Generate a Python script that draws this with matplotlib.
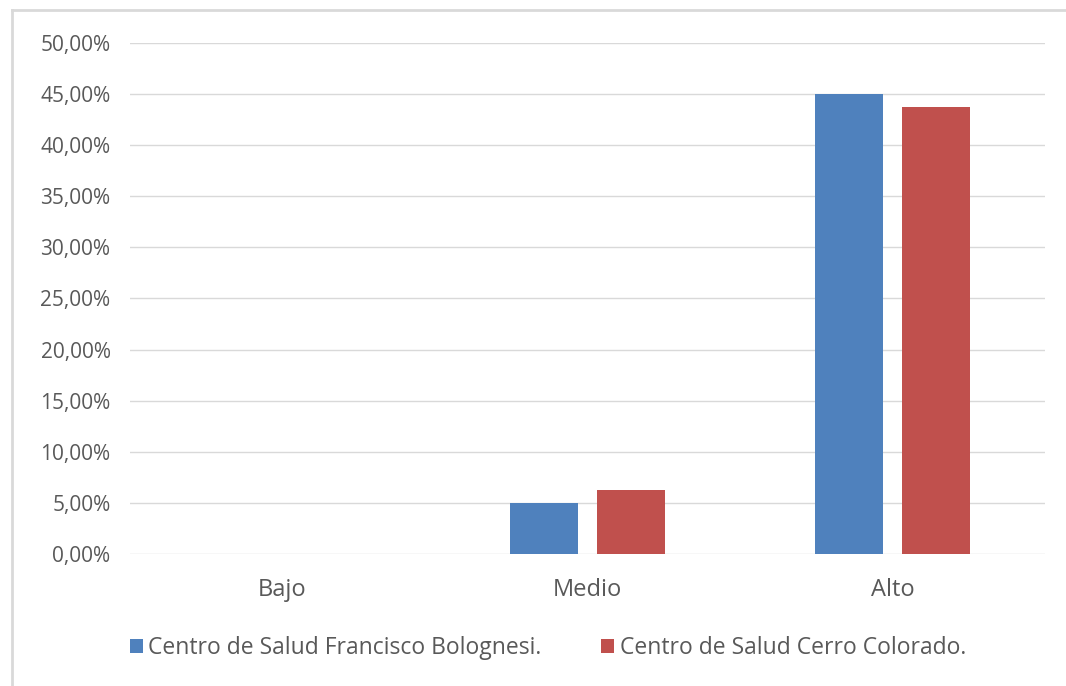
import numpy as np
import matplotlib.pyplot as plt
from matplotlib.lines import Line2D
from matplotlib.ticker import FuncFormatter

# datos del grafico
categorias = ['Bajo', 'Medio', 'Alto']
bolognesi = [0.0, 5.0, 45.0]
cerro_colorado = [0.0, 6.25, 43.7]
series = ['Centro de Salud Francisco Bolognesi.', 'Centro de Salud Cerro Colorado.']

plt.rcParams['font.family'] = ['Open Sans', 'DejaVu Sans']
gris = '#595959'

fig = plt.figure(figsize=(10.66, 6.86), dpi=100)
ax = fig.add_axes([130/1066, 132/686, 915/1066, 511/686])

x = np.arange(len(categorias))
ancho = 0.224
sep = 0.06
ax.bar(x - (ancho + sep)/2, bolognesi, ancho, color='#4f81bd', label=series[0], zorder=3)
ax.bar(x + (ancho + sep)/2, cerro_colorado, ancho, color='#c0504d', label=series[1], zorder=3)

ax.set_xlim(-0.5, 2.5)
ax.set_ylim(0, 50)
ax.set_yticks(np.arange(0, 51, 5))
ax.yaxis.set_major_formatter(FuncFormatter(lambda v, p: f'{v:.2f}%'.replace('.', ',')))
ax.set_xticks(x)
ax.set_xticklabels(categorias)
ax.tick_params(length=0, colors=gris)
ax.tick_params(axis='y', labelsize=15, pad=14)
ax.tick_params(axis='x', labelsize=17, pad=17)
ax.grid(axis='y', color='#d9d9d9', linewidth=1, zorder=0)
for s in ax.spines.values():
    s.set_visible(False)

# marco exterior (solo arriba e izquierda)
fig.add_artist(Line2D([12/1066, 1], [1 - 10/686, 1 - 10/686], transform=fig.transFigure,
                      color='#d9d9d9', linewidth=2))
fig.add_artist(Line2D([12/1066, 12/1066], [0, 1 - 10/686], transform=fig.transFigure,
                      color='#d9d9d9', linewidth=2))

fig.legend(loc='center', bbox_to_anchor=(0.514, 1 - 648/686), ncol=2, frameon=False,
           fontsize=16.5, labelcolor=gris, handlelength=0.55, handleheight=0.6,
           handletextpad=0.25, columnspacing=2.6)

fig.savefig('out.png', dpi=100)
